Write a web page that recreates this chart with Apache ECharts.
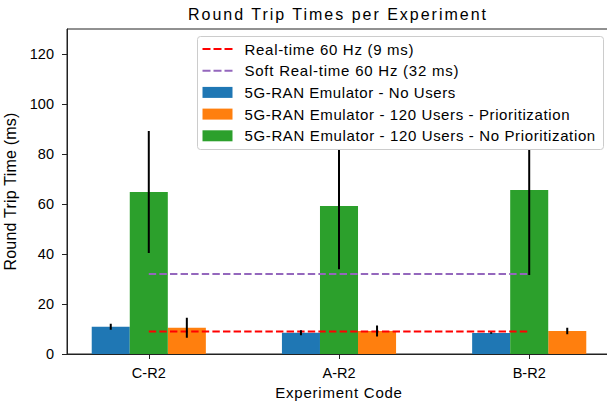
<!DOCTYPE html>
<html>
<head>
<meta charset="utf-8">
<script src="https://cdn.jsdelivr.net/npm/echarts@6/dist/echarts.min.js"></script>
<style>
html,body{margin:0;padding:0;background:#fff;}
#chart{width:607px;height:402px;}
</style>
</head>
<body>
<div id="chart"></div>
<script>
const categories = ['C-R2', 'A-R2', 'B-R2'];
const yTicks = [0, 20, 40, 60, 80, 100, 120];
const noUsers = [10.9, 8.5, 8.4];
const noUsersErr = [1.2, 1.0, 0.3];
const prio = [10.5, 9.2, 9.2];
const prioErr = [4.0, 2.2, 1.3];
const noPrio = [64.8, 59.2, 65.6];
const noPrioErr = [24.4, 25.3, 34.0];
const realTime = 9;
const softRealTime = 32;

const barNames = [
  '5G-RAN Emulator - No Users',
  '5G-RAN Emulator - 120 Users - Prioritization',
  '5G-RAN Emulator - 120 Users - No Prioritization'
];
const lineNames = ['Real-time 60 Hz (9 ms)', 'Soft Real-time 60 Hz (32 ms)'];
const titleText = 'Round Trip Times per Experiment';
const xName = 'Experiment Code';
const yName = 'Round Trip Time (ms)';

const barColors = ['#1f77b4', '#ff7f0e', '#2ca02c'];
const barOffsets = [-0.2, 0.2, 0];
const barW = 0.2;
const FONT = '"Liberation Sans", Arial, sans-serif';
const DASH_ICON = 'path://M0,0H8V2H0Z M11,0H19V2H11Z M22,0H30V2H22Z';

// rendered text widths (px) to mimic the reference's wide glyph spacing
const textWidths = {};
textWidths[titleText] = 298;
textWidths[lineNames[0]] = 169;
textWidths[lineNames[1]] = 214;
textWidths[barNames[0]] = 210.7;
textWidths[barNames[1]] = 325;
textWidths[barNames[2]] = 350.7;
textWidths[yName] = 158;
textWidths[xName] = 126.7;

function barSeries(name, vals, color, offset) {
  return {
    type: 'custom', name: name, z: 1,
    data: vals.map((v, i) => [i + offset, v]),
    itemStyle: { color: color },
    renderItem: function (params, api) {
      const x = api.value(0), y = api.value(1);
      const p0 = api.coord([x - barW / 2, y]);
      const p1 = api.coord([x + barW / 2, 0]);
      return { type: 'rect', shape: { x: p0[0], y: p0[1], width: p1[0] - p0[0], height: p1[1] - p0[1] },
               style: { fill: color } };
    }
  };
}
function errSeries(vals, errs, offset) {
  return {
    type: 'custom', z: 3, silent: true,
    data: vals.map((v, i) => [i + offset, v - errs[i], v + errs[i]]),
    renderItem: function (params, api) {
      const x = api.value(0);
      const a = api.coord([x, api.value(1)]);
      const b = api.coord([x, api.value(2)]);
      return { type: 'line', shape: { x1: a[0], y1: a[1], x2: b[0], y2: b[1] },
               style: { stroke: '#000', lineWidth: 2 } };
    }
  };
}
function hline(name, y, color) {
  return {
    type: 'line', name: name, z: 2, symbol: 'none',
    data: [[0, y], [categories.length - 1, y]],
    lineStyle: { color: color, width: 2, type: [7.4, 3.2] },
    itemStyle: { color: color }
  };
}

const chart = echarts.init(document.getElementById('chart'), null, { renderer: 'svg' });
chart.setOption({
  animation: false,
  backgroundColor: '#fff',
  textStyle: { fontFamily: FONT },
  title: {
    text: titleText,
    left: 338, top: 6, padding: 0, textAlign: 'center',
    textStyle: { fontFamily: FONT, fontSize: 16, fontWeight: 'normal', color: '#000' }
  },
  grid: { left: 67, top: 29, width: 544, height: 325, show: true, borderColor: '#222', borderWidth: 1,
          backgroundColor: 'transparent', containLabel: false, outerBoundsMode: 'none' },
  graphic: [{
    type: 'rect', z: 50, zlevel: 0,
    shape: { x: 197.5, y: 36.5, width: 406, height: 113, r: 3 },
    style: { fill: '#ffffff', stroke: '#cccccc', lineWidth: 1 }
  }],
  legend: {
    z: 60,
    left: 197, top: 36, orient: 'vertical',
    padding: [5.5, 8, 5.5, 5.5],
    itemWidth: 30, itemHeight: 11, itemGap: 6.7,
    textStyle: { fontFamily: FONT, fontSize: 15, color: '#000', lineHeight: 15, padding: [0, 0, 0, 7] },
    data: [
      { name: lineNames[0], icon: DASH_ICON },
      { name: lineNames[1], icon: DASH_ICON },
      { name: barNames[0], icon: 'rect' },
      { name: barNames[1], icon: 'rect' },
      { name: barNames[2], icon: 'rect' }
    ]
  },
  xAxis: {
    type: 'value', min: -0.43, max: 2.43,
    name: xName, nameLocation: 'middle', nameGap: 30,
    nameTextStyle: { fontFamily: FONT, fontSize: 15, color: '#000' },
    axisLine: { show: true, onZero: false, lineStyle: { color: '#222', width: 1 } },
    axisTick: { show: true, length: 5, lineStyle: { color: '#222' }, customValues: categories.map((c, i) => i) },
    axisLabel: { margin: 11, fontFamily: FONT, fontSize: 14.5, color: '#000',
                 customValues: categories.map((c, i) => i),
                 formatter: v => categories[Math.round(v)] },
    splitLine: { show: false }
  },
  yAxis: {
    type: 'value', min: 0, max: 130,
    name: yName, nameLocation: 'middle', nameGap: 44,
    nameTextStyle: { fontFamily: FONT, fontSize: 16, color: '#000' },
    axisLine: { show: true, onZero: false, lineStyle: { color: '#222', width: 1 } },
    axisTick: { show: true, length: 5, lineStyle: { color: '#222' }, customValues: yTicks },
    axisLabel: { margin: 13, fontFamily: FONT, fontSize: 14.5, color: '#000', customValues: yTicks },
    splitLine: { show: false }
  },
  series: [
    barSeries(barNames[0], noUsers, barColors[0], barOffsets[0]),
    barSeries(barNames[1], prio, barColors[1], barOffsets[1]),
    barSeries(barNames[2], noPrio, barColors[2], barOffsets[2]),
    hline(lineNames[0], realTime, '#ff0000'),
    hline(lineNames[1], softRealTime, '#9467bd'),
    errSeries(noUsers, noUsersErr, barOffsets[0]),
    errSeries(prio, prioErr, barOffsets[1]),
    errSeries(noPrio, noPrioErr, barOffsets[2])
  ]
});

function applySpacing() {
  const texts = document.querySelectorAll('#chart svg text');
  texts.forEach(el => {
    const s = el.textContent;
    if (!(s in textWidths)) return;
    el.style.letterSpacing = '0px';
    const len = el.getComputedTextLength();
    const n = Math.max(1, s.length - 1);
    const sp = (textWidths[s] - len) / n;
    el.style.letterSpacing = sp.toFixed(3) + 'px';
  });
}
try { chart.getZr().refreshImmediately(); } catch (e) {}
applySpacing();
chart.on('finished', applySpacing);
setTimeout(applySpacing, 50);
</script>
</body>
</html>
